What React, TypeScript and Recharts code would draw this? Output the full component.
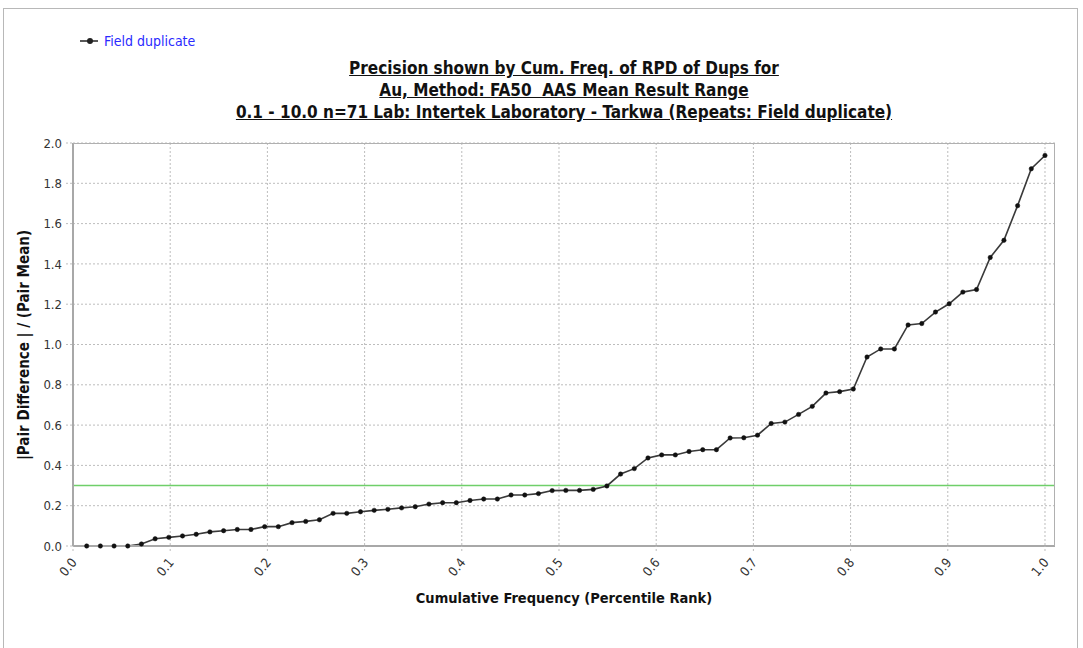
import React from "react";
import {
  LineChart,
  Line,
  XAxis,
  YAxis,
  CartesianGrid,
  ReferenceLine,
} from "recharts";

const titleLines = [
  "Precision shown by Cum. Freq. of RPD of Dups for",
  "Au, Method: FA50  AAS Mean Result Range",
  "0.1 - 10.0 n=71 Lab: Intertek Laboratory - Tarkwa (Repeats: Field duplicate)",
];
const seriesName = "Field duplicate";
const xAxisTitle = "Cumulative Frequency (Percentile Rank)";
const yAxisTitle = "|Pair Difference | / (Pair Mean)";

const xTicks = [0, 0.1, 0.2, 0.3, 0.4, 0.5, 0.6, 0.7, 0.8, 0.9, 1.0];
const yTicks = [0, 0.2, 0.4, 0.6, 0.8, 1.0, 1.2, 1.4, 1.6, 1.8, 2.0];
const thresholdValue = 0.3;

// |Pair Difference| / (Pair Mean), sorted ascending (n = 71)
const rpdValues = [
  0, 0, 0, 0, 0.01, 0.036, 0.043, 0.05, 0.058, 0.07,
  0.076, 0.082, 0.082, 0.096, 0.096, 0.116, 0.122, 0.13, 0.162, 0.162,
  0.17, 0.177, 0.182, 0.189, 0.195, 0.208, 0.215, 0.215, 0.226, 0.233,
  0.233, 0.253, 0.253, 0.26, 0.275, 0.276, 0.276, 0.281, 0.298, 0.357,
  0.384, 0.437, 0.452, 0.452, 0.469, 0.478, 0.478, 0.536, 0.537, 0.55,
  0.608, 0.615, 0.653, 0.693, 0.759, 0.766, 0.779, 0.938, 0.978, 0.978,
  1.097, 1.104, 1.161, 1.202, 1.26, 1.273, 1.432, 1.517, 1.689, 1.872,
  1.938,
];

const n = rpdValues.length;
const data = rpdValues.map((v, i) => ({ rank: (i + 1) / n, rpd: v }));

const FONT = "'DejaVu Sans Condensed', 'DejaVu Sans', sans-serif";

const XTick = (props: any) => {
  const { x, y, payload } = props;
  const tx = x + 1;
  const ty = y + 7;
  return (
    <text
      x={tx}
      y={ty}
      transform={`rotate(-50 ${tx} ${ty})`}
      textAnchor="end"
      dominantBaseline="central"
      fontSize={13}
      fontFamily={FONT}
      fill="#333"
    >
      {Number(payload.value).toFixed(1)}
    </text>
  );
};

export default function App() {
  return (
    <div
      style={{
        position: "absolute",
        left: 0,
        top: 0,
        width: 1083,
        height: 648,
        background: "#fff",
        overflow: "hidden",
        fontFamily: FONT,
      }}
    >
      <div
        style={{
          position: "absolute",
          left: 3,
          top: 8,
          width: 1073,
          height: 660,
          border: "1px solid #b8b8b8",
        }}
      />
      <div style={{ position: "absolute", left: 0, top: 0 }}>
        <LineChart
          width={1083}
          height={648}
          data={data}
          margin={{ top: 143, right: 28, bottom: 42, left: 13 }}
        >
          <CartesianGrid
            stroke="#bdbdbd"
            strokeDasharray="2 2"
            verticalValues={xTicks}
            horizontalValues={yTicks}
          />
          <XAxis
            type="number"
            dataKey="rank"
            domain={[0, 1.0103]}
            ticks={xTicks}
            height={60}
            axisLine={{ stroke: "#a8a8a8", strokeWidth: 2 }}
            tickLine={{ stroke: "#bdbdbd", strokeDasharray: "2 2" }}
            tickSize={5}
            tick={<XTick />}
            interval={0}
          />
          <YAxis
            type="number"
            domain={[0, 2]}
            ticks={yTicks}
            width={60}
            axisLine={{ stroke: "#a8a8a8", strokeWidth: 2 }}
            tickLine={{ stroke: "#bdbdbd", strokeDasharray: "2 2" }}
            tickSize={7}
            tickMargin={4}
            tick={{ fontSize: 13, fontFamily: FONT, fill: "#333" }}
            tickFormatter={(v: number) => v.toFixed(1)}
            interval={0}
          />
          <ReferenceLine
            y={thresholdValue}
            stroke="#6fcf6a"
            strokeWidth={1.5}
            ifOverflow="extendDomain"
          />
          <Line
            type="linear"
            dataKey="rpd"
            name={seriesName}
            stroke="#3a3a3a"
            strokeWidth={1.6}
            dot={{ r: 2.2, fill: "#111", stroke: "#111", strokeWidth: 0.5 }}
            isAnimationActive={false}
          />
        </LineChart>
      </div>
      {/* plot frame top/right */}
      <div
        style={{
          position: "absolute",
          left: 73,
          top: 143,
          width: 982,
          height: 403,
          borderTop: "1px solid #b0b0b0",
          borderRight: "1px solid #b0b0b0",
          boxSizing: "border-box",
          pointerEvents: "none",
        }}
      />
      {/* legend */}
      <div
        style={{
          position: "absolute",
          left: 80,
          top: 33,
          display: "flex",
          alignItems: "center",
          fontSize: 14,
          color: "#2a2aff",
        }}
      >
        <svg width={20} height={16}>
          <line x1={0} y1={8} x2={18} y2={8} stroke="#222" strokeWidth={1.5} />
          <circle cx={10} cy={8} r={3} fill="#222" />
        </svg>
        <span style={{ marginLeft: 4 }}>{seriesName}</span>
      </div>
      {/* title */}
      <div
        style={{
          position: "absolute",
          left: 114,
          width: 900,
          top: 57,
          textAlign: "center",
          fontWeight: "bold",
          fontSize: 17,
          lineHeight: "22px",
          textDecoration: "underline",
          color: "#111",
        }}
      >
        {titleLines.map((t, i) => (
          <div key={i} style={{ whiteSpace: "pre" }}>
            {t}
          </div>
        ))}
      </div>
      {/* y axis title */}
      <div
        style={{
          position: "absolute",
          left: 24,
          top: 345,
          transform: "translate(-50%, -50%) rotate(-90deg)",
          whiteSpace: "pre",
          fontWeight: "bold",
          fontSize: 15,
          color: "#111",
        }}
      >
        {yAxisTitle}
      </div>
      {/* x axis title */}
      <div
        style={{
          position: "absolute",
          left: 564,
          top: 598,
          transform: "translate(-50%, -50%)",
          whiteSpace: "nowrap",
          fontWeight: "bold",
          fontSize: 14.5,
          color: "#111",
        }}
      >
        {xAxisTitle}
      </div>
    </div>
  );
}
